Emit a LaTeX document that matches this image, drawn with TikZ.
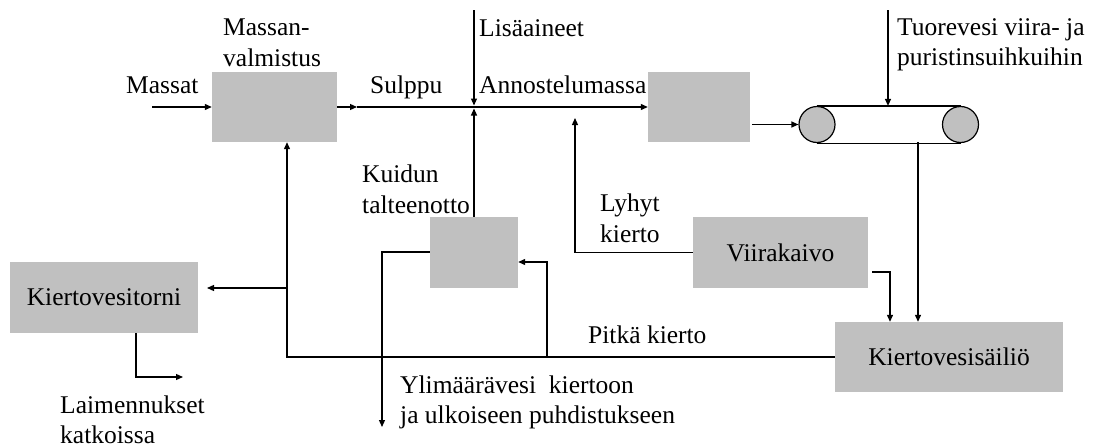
\documentclass[tikz,border=0pt]{standalone}
\usepackage{fontspec}
\setmainfont{Liberation Serif}
\usetikzlibrary{arrows.meta}
\definecolor{boxgray}{HTML}{C0C0C0}
\begin{document}
\begin{tikzpicture}[x=1pt,y=-1pt,
  every node/.style={font=\fontsize{25.5}{31}\selectfont},
  proc/.style={fill=boxgray,draw=none,inner sep=0pt},
  lbl/.style={anchor=base west,inner sep=0pt},
  line/.style={line width=1.2pt},
  arr/.style={line width=1.2pt,-{Triangle[length=7pt,width=6pt]}},
  roller/.style={circle,draw,fill=boxgray,line width=1.2pt,minimum size=36pt,inner sep=0pt}]
\useasboundingbox (0,0) rectangle (1101,447);
% boxes
\node[proc,minimum width=125pt,minimum height=70pt] (massan) at (274.5,107) {};
\node[proc,minimum width=102pt,minimum height=70pt] (head) at (699,107) {};
\node[proc,minimum width=88pt,minimum height=71pt] (kuidun) at (474,252.5) {};
\node[proc,minimum width=175pt,minimum height=71pt] (viira) at (780.5,252.5) {Viirakaivo};
\node[proc,minimum width=228pt,minimum height=70pt] (tank) at (949,357) {Kiertovesisäiliö};
\node[proc,minimum width=188pt,minimum height=71pt] (tower) at (104,297.5) {Kiertovesitorni};
% wire
\node[roller] (r1) at (817,124.5) {};
\node[roller] (r2) at (960.5,124.5) {};
\draw[line] (r1.north) -- (r2.north);
\draw[line] (r1.south) -- (r2.south);
% labels
\node[lbl] (lmassan1) at (223,35) {Massan-};
\node[lbl] (lmassan2) at (223,66) {valmistus};
\node[lbl] (lmassat) at (126,93) {Massat};
\node[lbl] (lsulppu) at (370,93) {Sulppu};
\node[lbl] (llisa) at (479,36) {Lisäaineet};
\node[lbl] (lannos) at (479,93) {Annostelumassa};
\node[lbl] (ltuore1) at (897,35) {Tuorevesi viira- ja};
\node[lbl] (ltuore2) at (897,65) {puristinsuihkuihin};
\node[lbl] (lkuidun1) at (362,182) {Kuidun};
\node[lbl] (lkuidun2) at (362,213) {talteenotto};
\node[lbl] (llyhyt1) at (600,211) {Lyhyt};
\node[lbl] (llyhyt2) at (600,242) {kierto};
\node[lbl] (lpitka) at (588,343) {Pitkä kierto};
\node[lbl] (lylim1) at (400,393) {Ylimäärävesi\ \ kiertoon};
\node[lbl] (lylim2) at (400,423) {ja ulkoiseen puhdistukseen};
\node[lbl] (llaim1) at (60,413) {Laimennukset};
\node[lbl] (llaim2) at (60,443) {katkoissa};
% coordinates
\coordinate (massatStart) at (152,107);
\coordinate (mid) at (357,107);
\coordinate (junc) at (474,107);
\coordinate (lisaTop) at (474,10);
\coordinate (tuoreTop) at (888,10);
\coordinate (wireOut) at (918,142);
\coordinate (viiraOut) at (872,272);
\coordinate (viiraBend) at (890,272);
\coordinate (lyhytEnd) at (575,118);
\coordinate (pk) at (287,357);
\coordinate (towerBranch) at (287,288);
\coordinate (towerIn) at (207,288);
\coordinate (kuiBranch) at (547,357);
\coordinate (kuiBend) at (547,262);
\coordinate (towerOut) at (136,377);
\coordinate (laimEnd) at (183,377);
\coordinate (ylimBend) at (382,252);
\coordinate (ylimEnd) at (382,427);
% connectors
\draw[arr] (massatStart) -- (massan.west);
\draw[arr] (massan.east) -- (mid);
\draw[arr] (mid) -- (head.west);
\draw[arr,shorten >=1.5pt] (lisaTop) -- (junc);
\draw[arr,shorten >=1.5pt] (kuidun.north) -- (junc);
\draw[arr] (head.east |- r1.west) ++(2,0) -- (r1.west);
\draw[arr] (tuoreTop) -- (tuoreTop |- r1.north);
\draw[arr] (wireOut) -- (wireOut |- tank.north);
\draw[arr] (viiraOut) -- (viiraBend) -- (viiraBend |- tank.north);
\draw[arr] (viira.west) -- (lyhytEnd |- viira.west) -- (lyhytEnd);
\draw[arr] (tank.west) -- (pk) -- (pk |- massan.south);
\draw[arr] (towerBranch) -- (towerIn);
\draw[arr] (kuiBranch) -- (kuiBend) -- (kuidun.east |- kuiBend);
\draw[arr] (towerOut |- tower.south) -- (towerOut) -- (laimEnd);
\draw[arr] (kuidun.west |- ylimBend) -- (ylimBend) -- (ylimEnd);
\end{tikzpicture}
\end{document}
